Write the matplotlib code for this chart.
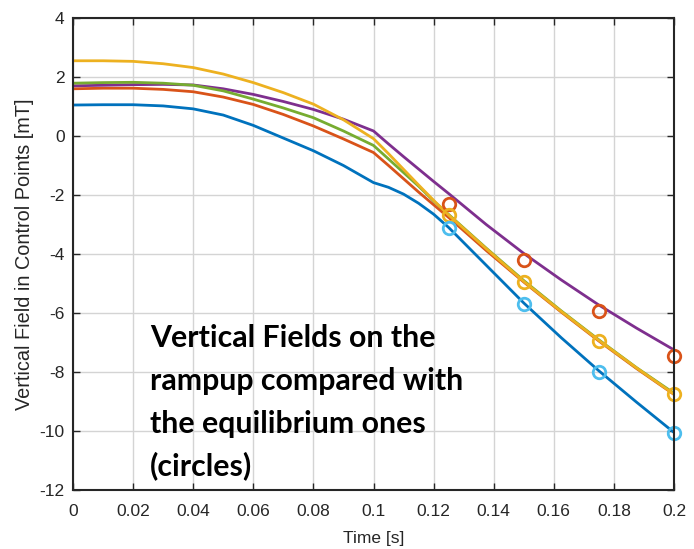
import matplotlib
matplotlib.use("Agg")
import matplotlib.pyplot as plt

t = [0, 0.01, 0.02, 0.03, 0.04, 0.05, 0.06, 0.07, 0.08, 0.09, 0.1,
     0.105, 0.11, 0.115, 0.12, 0.125, 0.1375, 0.15, 0.1625, 0.175, 0.1875, 0.2]

blue = [1.05, 1.06, 1.06, 1.02, 0.92, 0.71, 0.36, -0.07, -0.5, -1.0, -1.58,
        -1.74, -1.97, -2.28, -2.65, -3.1, -4.38, -5.66, -6.84, -7.96, -9.02, -10.05]
orange = [1.6, 1.62, 1.62, 1.58, 1.5, 1.32, 1.07, 0.73, 0.34, -0.1, -0.56,
          -1.0, -1.45, -1.9, -2.33, -2.76, -3.88, -4.95, -5.97, -6.95, -7.88, -8.76]
yellow = [2.55, 2.55, 2.53, 2.45, 2.32, 2.1, 1.81, 1.47, 1.08, 0.55, -0.09,
          -0.6, -1.13, -1.66, -2.18, -2.68, -3.82, -4.93, -5.95, -6.93, -7.86, -8.75]
purple = [1.7, 1.72, 1.74, 1.75, 1.73, 1.6, 1.41, 1.17, 0.9, 0.57, 0.17,
          -0.27, -0.7, -1.12, -1.54, -1.95, -3.0, -3.98, -4.88, -5.73, -6.51, -7.25]
green = [1.79, 1.81, 1.82, 1.79, 1.72, 1.53, 1.25, 0.95, 0.62, 0.17, -0.32,
         -0.78, -1.24, -1.7, -2.2, -2.66, -3.8, -4.9, -5.93, -6.91, -7.85, -8.72]

t_eq = [0.125, 0.15, 0.175, 0.2]
eq_orange = [-2.29, -4.2, -5.93, -7.46]
eq_yellow = [-2.69, -4.94, -6.95, -8.76]
eq_lightblue = [-3.11, -5.68, -7.99, -10.06]

xticks = [0, 0.02, 0.04, 0.06, 0.08, 0.1, 0.12, 0.14, 0.16, 0.18, 0.2]
xticklabels = ["0", "0.02", "0.04", "0.06", "0.08", "0.1", "0.12", "0.14", "0.16", "0.18", "0.2"]
yticks = [4, 2, 0, -2, -4, -6, -8, -10, -12]

annotation = ["Vertical Fields on the", "rampup compared with",
              "the equilibrium ones", "(circles)"]

plt.rcParams['font.family'] = ['Liberation Sans', 'DejaVu Sans']
plt.rcParams['axes.unicode_minus'] = False

fig = plt.figure(figsize=(6.94, 5.49), dpi=100)
ax = fig.add_axes([73/694, 59/549, 601/694, 472/549])

lw = 2.0
ax.plot(t, blue, color='#0072BD', lw=lw)
ax.plot(t, orange, color='#D95319', lw=lw)
ax.plot(t, purple, color='#7E2F8E', lw=lw)
ax.plot(t, green, color='#77AC30', lw=lw)
ax.plot(t, yellow, color='#EDB120', lw=lw)

mk = dict(marker='o', ls='none', markersize=9, markerfacecolor='none', markeredgewidth=2.0, clip_on=False)
ax.plot(t_eq, eq_orange, markeredgecolor='#D95319', **mk)
ax.plot(t_eq, eq_yellow, markeredgecolor='#EDB120', **mk)
ax.plot(t_eq, eq_lightblue, markeredgecolor='#4DBEEE', **mk)

ax.set_xlim(0, 0.2)
ax.set_ylim(-12, 4)
ax.set_xticks(xticks)
ax.set_xticklabels(xticklabels)
ax.set_yticks(yticks)
ax.grid(True, color='#d4d4d4', lw=1.0)
ax.set_axisbelow(True)
ax.tick_params(direction='in', top=True, right=True, labelsize=12.5, length=5,
               width=1.0, colors='#262626')
ax.tick_params(axis='x', pad=10)
ax.tick_params(axis='y', pad=6)
for s in ax.spines.values():
    s.set_color('#262626')
    s.set_linewidth(1.5)
ax.set_xlabel("Time [s]", fontsize=12.5, color='#262626', labelpad=9)
ax.set_ylabel("Vertical Field in Control Points [mT]", fontsize=14.3, color='#262626', labelpad=4)

baselines = [347, 390, 432.5, 475]
for line, yb in zip(annotation, baselines):
    fig.text(150/694, 1 - yb/549, line, fontsize=21.8, fontweight='bold',
             family=['Lato', 'DejaVu Sans'], va='baseline', ha='left', color='black')

fig.savefig("out.png", dpi=100)
